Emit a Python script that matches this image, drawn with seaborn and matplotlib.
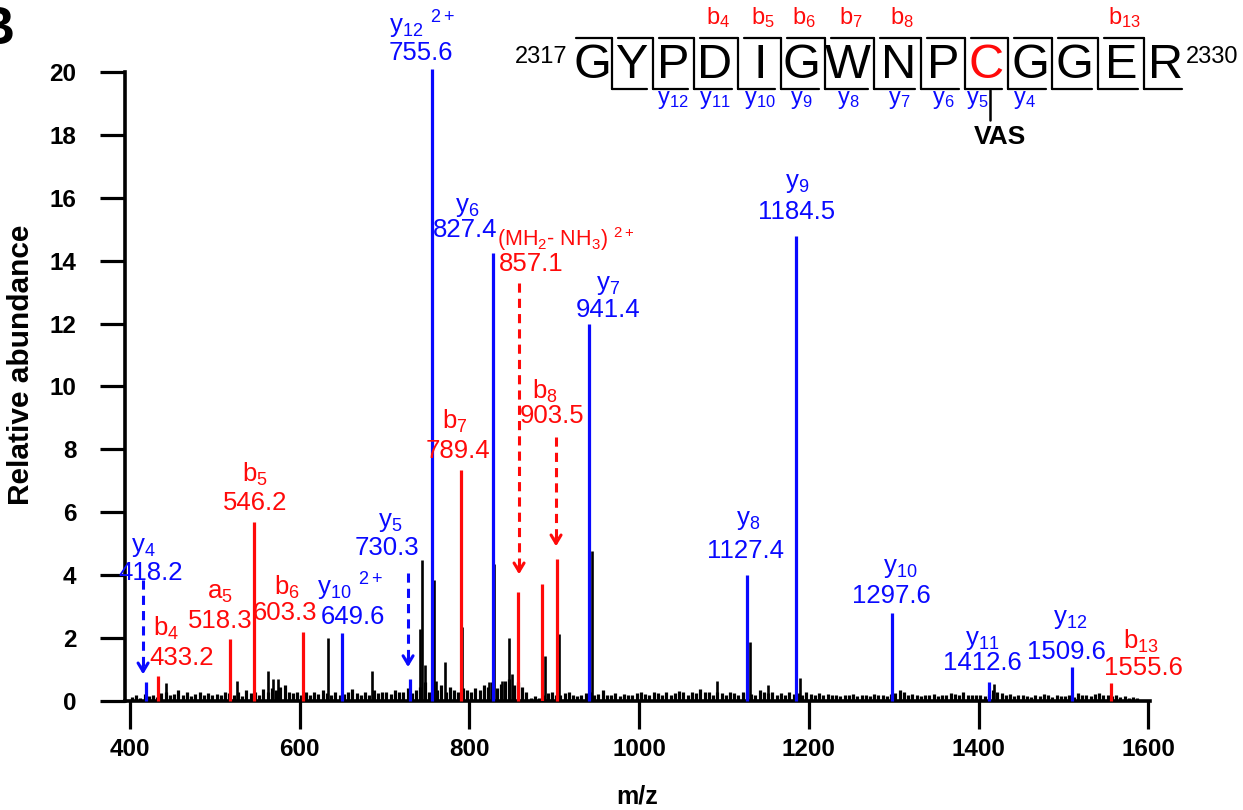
import numpy as np
import matplotlib
matplotlib.use("Agg")
import matplotlib.pyplot as plt
import seaborn as sns
from matplotlib.lines import Line2D

# ---------------- data ----------------
ion_names = ["y$_4$", "b$_4$", "a$_5$", "b$_5$", "b$_6$", "y$_{10}$ $^{2+}$", "y$_5$",
             "y$_{12}$ $^{2+}$", "b$_7$", "y$_6$", "(MH$_2$- NH$_3$) $^{2+}$", "b$_8$",
             "y$_7$", "y$_8$", "y$_9$", "y$_{10}$", "y$_{11}$", "y$_{12}$", "b$_{13}$"]
ion_mz = [418.2, 433.2, 518.3, 546.2, 603.3, 649.6, 730.3, 755.6, 789.4, 827.4,
          857.1, 903.5, 941.4, 1127.4, 1184.5, 1297.6, 1412.6, 1509.6, 1555.6]
ion_abund = [0.6, 0.79, 1.97, 5.70, 2.2, 2.15, 0.7, 20.1, 7.35, 14.25,
             3.45, 4.5, 12.0, 4.0, 14.8, 2.8, 0.62, 1.07, 0.57]
ion_series = ["y", "b", "b", "b", "b", "y", "y", "y", "b", "y",
              "b", "b", "y", "y", "y", "y", "y", "y", "b"]

extra_red_mz = [885.2]
extra_red_abund = [3.72]

other_mz = [442, 526, 563, 568, 574, 633.5, 684.8, 742, 744, 747, 757.8, 761, 771.6,
            791.7, 822.9, 829.2, 838, 846.5, 849.7, 888.4, 905.7, 944.4, 1092,
            1130.6, 1151.5, 1189, 1417.8]
other_abund = [0.57, 0.63, 0.96, 0.7, 0.7, 1.99, 0.96, 2.3, 4.49, 1.14, 3.86, 0.64, 1.23,
               2.34, 0.59, 4.36, 0.65, 1.99, 0.85, 1.44, 2.13, 4.76, 0.65,
               1.89, 0.5, 0.72, 0.54]

# low-level background signal, one value per 5 m/z starting at 402
noise_400 = [0.12, 0.18, 0.1, 0.22, 0.15, 0.2, 0.12, 0.25, 0.3, 0.18, 0.22, 0.35, 0.2, 0.28, 0.15, 0.22, 0.3, 0.18, 0.25, 0.2]
noise_500 = [0.22, 0.18, 0.3, 0.25, 0.2, 0.28, 0.15, 0.35, 0.25, 0.3, 0.2, 0.38, 0.3, 0.42, 0.35, 0.45, 0.5, 0.3, 0.25, 0.3]
noise_600 = [0.2, 0.28, 0.18, 0.3, 0.22, 0.35, 0.25, 0.2, 0.3, 0.18, 0.22, 0.3, 0.38, 0.25, 0.2, 0.3, 0.18, 0.35, 0.25, 0.28]
noise_700 = [0.3, 0.22, 0.35, 0.28, 0.3, 0.4, 0.25, 0.35, 0.45, 0.6, 0.3, 0.4, 0.35, 0.5, 0.3, 0.45, 0.35, 0.3, 0.4, 0.35]
noise_800 = [0.3, 0.4, 0.35, 0.5, 0.45, 0.6, 0.4, 0.55, 0.65, 0.7, 0.5, 0.6, 0.45, 0.3, 0.1, 0.15, 0.1, 0.2, 0.25, 0.3]
noise_900 = [0.2, 0.18, 0.25, 0.3, 0.2, 0.15, 0.2, 0.25, 0.3, 0.2, 0.22, 0.35, 0.2, 0.18, 0.25, 0.15, 0.22, 0.2, 0.18, 0.25]
noise_1000 = [0.3, 0.22, 0.2, 0.28, 0.25, 0.18, 0.3, 0.2, 0.25, 0.32, 0.28, 0.2, 0.3, 0.25, 0.38, 0.3, 0.28, 0.2, 0.3, 0.25]
noise_1100 = [0.2, 0.3, 0.25, 0.18, 0.3, 0.25, 0.22, 0.2, 0.35, 0.3, 0.25, 0.3, 0.18, 0.25, 0.2, 0.3, 0.22, 0.25, 0.2, 0.3]
noise_1200 = [0.22, 0.2, 0.25, 0.18, 0.22, 0.2, 0.18, 0.15, 0.2, 0.18, 0.22, 0.15, 0.18, 0.2, 0.15, 0.22, 0.18, 0.2, 0.15, 0.22]
noise_1300 = [0.25, 0.35, 0.3, 0.2, 0.22, 0.18, 0.15, 0.2, 0.18, 0.22, 0.15, 0.2, 0.18, 0.25, 0.22, 0.18, 0.3, 0.2, 0.18, 0.2]
noise_1400 = [0.2, 0.15, 0.22, 0.35, 0.3, 0.25, 0.2, 0.22, 0.15, 0.2, 0.18, 0.15, 0.12, 0.2, 0.15, 0.22, 0.18, 0.12, 0.2, 0.15]
noise_1500 = [0.15, 0.2, 0.12, 0.25, 0.18, 0.2, 0.15, 0.22, 0.25, 0.18, 0.2, 0.15, 0.18, 0.12, 0.15, 0.1, 0.12, 0.1, 0.0, 0.0]

x_ticks = [400, 600, 800, 1000, 1200, 1400, 1600]
y_ticks = [0, 2, 4, 6, 8, 10, 12, 14, 16, 18, 20]

sequence = list("GYPDIGWNPCGGER")
b_marks = {4: "b$_4$", 5: "b$_5$", 6: "b$_6$", 7: "b$_7$", 8: "b$_8$", 13: "b$_{13}$"}
y_marks = {12: "y$_{12}$", 11: "y$_{11}$", 10: "y$_{10}$", 9: "y$_9$", 8: "y$_8$",
           7: "y$_7$", 6: "y$_6$", 5: "y$_5$", 4: "y$_4$"}

# ---------------- layout (label placement, data units) ----------------
num_pos = [(424.7, 4.07), (461.3, 1.37), (506.1, 2.54), (547.3, 6.30), (582.7, 2.80),
           (662.8, 2.67), (702.9, 4.86), (742.9, 20.60), (786.5, 7.95), (794.8, 14.98),
           (872.5, 13.9), (897.3, 9.06), (963.3, 12.43), (1124.7, 4.77), (1186.0, 15.55),
           (1296.8, 3.34), (1404.0, 1.21), (1503.0, 1.56), (1593.7, 1.05)]
name_pos = [(415.3, 4.90), (442.4, 2.32), (506.1, 3.43), (547.3, 7.19), (585.0, 3.62),
            (659.3, 3.62), (706.4, 5.69), (744.1, 21.49), (783.0, 8.90), (797.1, 15.71),
            (913.5, 14.69), (889.0, 9.86), (963.3, 13.23), (1128.2, 5.76), (1186.0, 16.47),
            (1307.4, 4.23), (1404.0, 1.94), (1507.7, 2.61), (1591.4, 1.88)]
name_size = {10: 15.5}
arrows = {0: (415.3, 3.85, 0.76), 6: (727.6, 4.07, 0.99), 10: (858.4, 13.29, 3.94),
          11: (902.0, 8.39, 4.83)}

BLUE = "#0a0aff"
RED = "#ff0a0a"

sns.set_theme(style="ticks")
plt.rcParams["font.family"] = ["Liberation Sans", "DejaVu Sans"]
plt.rcParams["mathtext.fontset"] = "custom"
plt.rcParams["mathtext.rm"] = "Liberation Sans"
plt.rcParams["mathtext.it"] = "Liberation Sans:italic"
plt.rcParams["mathtext.bf"] = "Liberation Sans:bold"
plt.rcParams["mathtext.default"] = "regular"
for key in ["text.color", "axes.labelcolor", "xtick.color", "ytick.color",
            "xtick.labelcolor", "ytick.labelcolor", "axes.edgecolor"]:
    plt.rcParams[key] = "black"

fig = plt.figure(figsize=(12.43, 8.10), dpi=100)
ax = fig.add_axes([125 / 1243, 109 / 810, 1025 / 1243, 629 / 810])

noise = (noise_400 + noise_500 + noise_600 + noise_700 + noise_800 + noise_900 +
         noise_1000 + noise_1100 + noise_1200 + noise_1300 + noise_1400 + noise_1500)
noise_mz = 402 + 5 * np.arange(len(noise))
ax.vlines(noise_mz, 0, noise, color="black", lw=2.3)
ax.vlines(other_mz, 0, other_abund, color="black", lw=1.9)

colors = [BLUE if s == "y" else RED for s in ion_series]
ax.vlines(ion_mz, 0, ion_abund, colors=colors, lw=2.3, clip_on=False, zorder=3)
ax.vlines(extra_red_mz, 0, extra_red_abund, colors=RED, lw=2.3, zorder=3)

for i, name in enumerate(ion_names):
    c = colors[i]
    nx, ny = num_pos[i]
    ax.text(nx, ny, f"{ion_mz[i]:.1f}", color=c, fontsize=18.5, ha="center", va="center", clip_on=False)
    mx, my = name_pos[i]
    ax.text(mx, my, name, color=c, fontsize=name_size.get(i, 18.5), ha="center", va="center", clip_on=False)

for i, (x, y0, y1) in arrows.items():
    c = colors[i]
    ax.plot([x, x], [y0, y1 + 0.35], color=c, lw=2.2, ls=(0, (3, 2)))
    ax.annotate("", xy=(x, y1), xytext=(x, y1 + 0.45),
                arrowprops=dict(arrowstyle="->,head_length=0.5,head_width=0.3", color=c, lw=2.2))

ax.set_xlim(394, 1602)
ax.set_ylim(0, 20)
ax.set_xticks(x_ticks)
ax.set_yticks(y_ticks)
ax.tick_params(axis="both", direction="out", width=2.3, labelsize=17.5, color="black", labelcolor="black")
ax.tick_params(axis="x", length=20, pad=7)
ax.tick_params(axis="y", length=18, pad=17)
for lab in ax.get_xticklabels() + ax.get_yticklabels():
    lab.set_fontweight("bold")
sns.despine(ax=ax)
for s in ["left", "bottom"]:
    ax.spines[s].set_linewidth(2.6)
    ax.spines[s].set_color("black")
ax.set_xlabel("m/z", fontsize=18, fontweight="bold", color="black")
ax.set_ylabel("Relative abundance", fontsize=21.5, fontweight="bold", color="black")
ax.xaxis.set_label_coords(0.5, -0.133)
ax.yaxis.set_label_coords(-0.088, 0.535)

# ---------------- peptide sequence annotation (figure pixels) ----------------
W, H = 1243, 810
def fx(px):
    return px / W
def fy(py):
    return 1 - py / H

res_x = [592, 632, 673, 715, 760, 801, 848, 899, 943, 986, 1030, 1074, 1121, 1166]
seq_y = 65
top_y, bot_y = 38, 89
for i, r in enumerate(sequence):
    fig.text(fx(res_x[i]), fy(seq_y), r, fontsize=35, ha="center", va="center",
             color=RED if i == 9 else "black")
fig.text(fx(568), fy(57), "2317", fontsize=17, ha="right", va="center")
fig.text(fx(1186), fy(57), "2330", fontsize=17, ha="left", va="center")

bounds = [(res_x[i] + res_x[i + 1]) / 2 for i in range(len(res_x) - 1)]
gap = 6
for k, bx in enumerate(bounds):
    left = (bounds[k - 1] if k > 0 else res_x[0] - 22) + gap
    right = (bounds[k + 1] if k < len(bounds) - 1 else res_x[-1] + 22) - gap
    fig.add_artist(Line2D([fx(left), fx(bx)], [fy(top_y), fy(top_y)], color="black", lw=1.6))
    fig.add_artist(Line2D([fx(bx), fx(bx)], [fy(top_y), fy(bot_y)], color="black", lw=1.6))
    fig.add_artist(Line2D([fx(bx), fx(right)], [fy(bot_y), fy(bot_y)], color="black", lw=1.6))

for k, lab in b_marks.items():
    fig.text(fx(res_x[k - 1] + 3), fy(18), lab, fontsize=17, color=RED, ha="center", va="center")
n = len(sequence)
for k, lab in y_marks.items():
    idx = n - k
    xoff = -9 if k == 5 else (-6 if k == 4 else 0)
    fig.text(fx(res_x[idx] + xoff), fy(100), lab, fontsize=17, color=BLUE, ha="center", va="center")

fig.add_artist(Line2D([fx(990), fx(990)], [fy(90), fy(120)], color="black", lw=1.8))
fig.text(fx(1000), fy(137), "VAS", fontsize=19, fontweight="bold", ha="center", va="center")

fig.text(fx(14), fy(30), "B", fontsize=38, fontweight="bold", ha="right", va="center")

fig.savefig("out.png", dpi=100)
